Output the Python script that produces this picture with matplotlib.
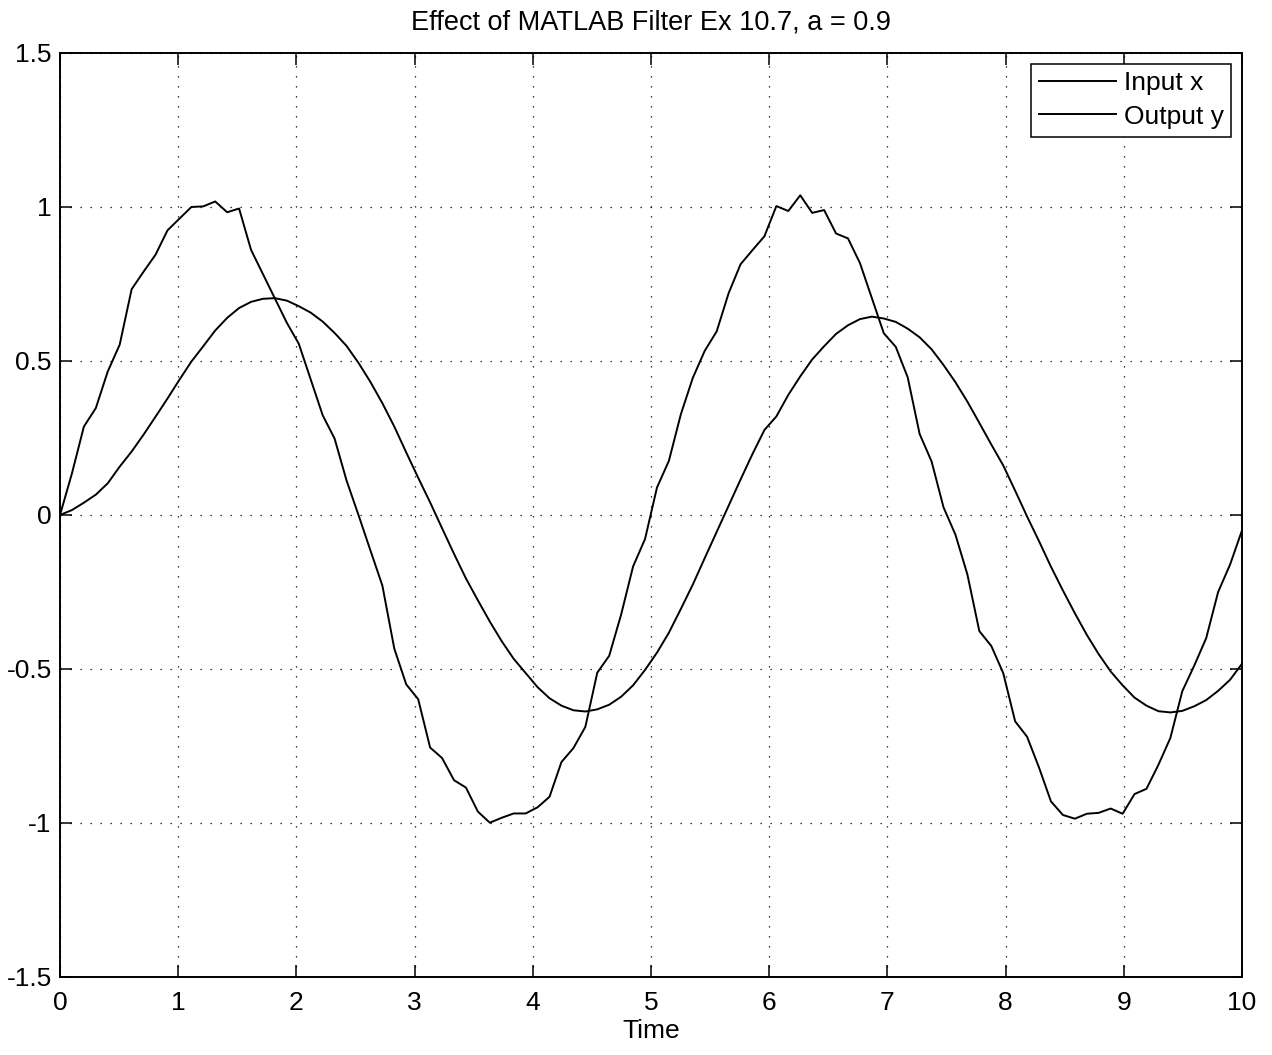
import numpy as np
import matplotlib
matplotlib.use("Agg")
import matplotlib.pyplot as plt

# ---- data ----
n_samples = 100
t_start, t_end = 0.0, 10.0

input_x = [
    0.0, 0.135, 0.287, 0.347, 0.466, 0.553, 0.733, 0.79, 0.845, 0.924,
    0.962, 1.0, 1.002, 1.018, 0.983, 0.995, 0.861, 0.782, 0.703, 0.624,
    0.556, 0.44, 0.324, 0.248, 0.112, 0.0, -0.115, -0.229, -0.434, -0.55,
    -0.598, -0.755, -0.789, -0.861, -0.885, -0.963, -0.999, -0.983, -0.969, -0.969,
    -0.949, -0.915, -0.802, -0.757, -0.688, -0.512, -0.457, -0.323, -0.167, -0.078,
    0.089, 0.176, 0.327, 0.445, 0.533, 0.596, 0.72, 0.814, 0.86, 0.905,
    1.003, 0.987, 1.038, 0.981, 0.99, 0.914, 0.898, 0.818, 0.704, 0.59,
    0.546, 0.447, 0.263, 0.174, 0.025, -0.064, -0.193, -0.377, -0.425, -0.513,
    -0.67, -0.72, -0.82, -0.93, -0.974, -0.986, -0.97, -0.967, -0.953, -0.97,
    -0.906, -0.889, -0.811, -0.724, -0.572, -0.489, -0.40, -0.25, -0.161, -0.05,
]

output_y = [
    0.0, 0.016, 0.04, 0.066, 0.103, 0.157, 0.206, 0.261, 0.319, 0.378,
    0.439, 0.498, 0.548, 0.599, 0.640, 0.672, 0.692, 0.702, 0.704, 0.696,
    0.678, 0.657, 0.628, 0.591, 0.549, 0.494, 0.432, 0.363, 0.287, 0.203,
    0.121, 0.041, -0.043, -0.126, -0.206, -0.277, -0.346, -0.410, -0.467, -0.513,
    -0.559, -0.595, -0.619, -0.634, -0.638, -0.631, -0.616, -0.590, -0.553, -0.503,
    -0.447, -0.382, -0.305, -0.226, -0.14, -0.055, 0.03, 0.115, 0.198, 0.276,
    0.32, 0.39, 0.45, 0.505, 0.548, 0.588, 0.616, 0.636, 0.644, 0.638,
    0.627, 0.605, 0.577, 0.538, 0.487, 0.431, 0.368, 0.299, 0.229, 0.161,
    0.079, -0.005, -0.085, -0.168, -0.245, -0.319, -0.389, -0.452, -0.508, -0.553,
    -0.593, -0.619, -0.637, -0.641, -0.636, -0.621, -0.601, -0.571, -0.535, -0.483,
]

x_ticks = [0, 1, 2, 3, 4, 5, 6, 7, 8, 9, 10]
y_ticks = [-1.5, -1, -0.5, 0, 0.5, 1, 1.5]
y_tick_labels = ["-1.5", "-1", "-0.5", "0", "0.5", "1", "1.5"]
series_labels = ["Input x", "Output y"]
title = "Effect of MATLAB Filter Ex 10.7, a = 0.9"
xlabel = "Time"

t = np.linspace(t_start, t_end, n_samples)

plt.rcParams['font.family'] = ['Liberation Sans', 'DejaVu Sans']

fig = plt.figure(figsize=(12.72, 10.55), dpi=100)
ax = fig.add_axes([60 / 1272, 1 - 977 / 1055, (1242 - 60) / 1272, (977 - 53) / 1055])

ax.plot(t, input_x, color='black', lw=1.4, label=series_labels[0])
ax.plot(t, output_y, color='black', lw=1.4, label=series_labels[1])

ax.set_xlim(0, 10)
ax.set_ylim(-1.5, 1.5)
ax.set_xticks(x_ticks)
ax.set_xticklabels([str(v) for v in x_ticks])
ax.set_yticks(y_ticks)
ax.set_yticklabels(y_tick_labels)
ax.tick_params(direction='in', length=8.5, width=1.1, top=True, right=True,
               labelsize=19)
ax.tick_params(axis='x', pad=10)
ax.tick_params(axis='y', pad=6)
ax.grid(True, linestyle=(0, (1, 7)), color='black', linewidth=0.9)
for s in ax.spines.values():
    s.set_linewidth(1.4)

ax.set_title(title, fontsize=19.5, pad=17)
ax.set_xlabel(xlabel, fontsize=19, labelpad=3)

leg = ax.legend(loc='upper right', fontsize=19, frameon=True, fancybox=False,
                edgecolor='black', framealpha=1, handlelength=2.9,
                borderaxespad=0.4, handletextpad=0.3, borderpad=0.3,
                labelspacing=0.35)
leg.get_frame().set_linewidth(1.1)

fig.savefig("out.png", dpi=100)
